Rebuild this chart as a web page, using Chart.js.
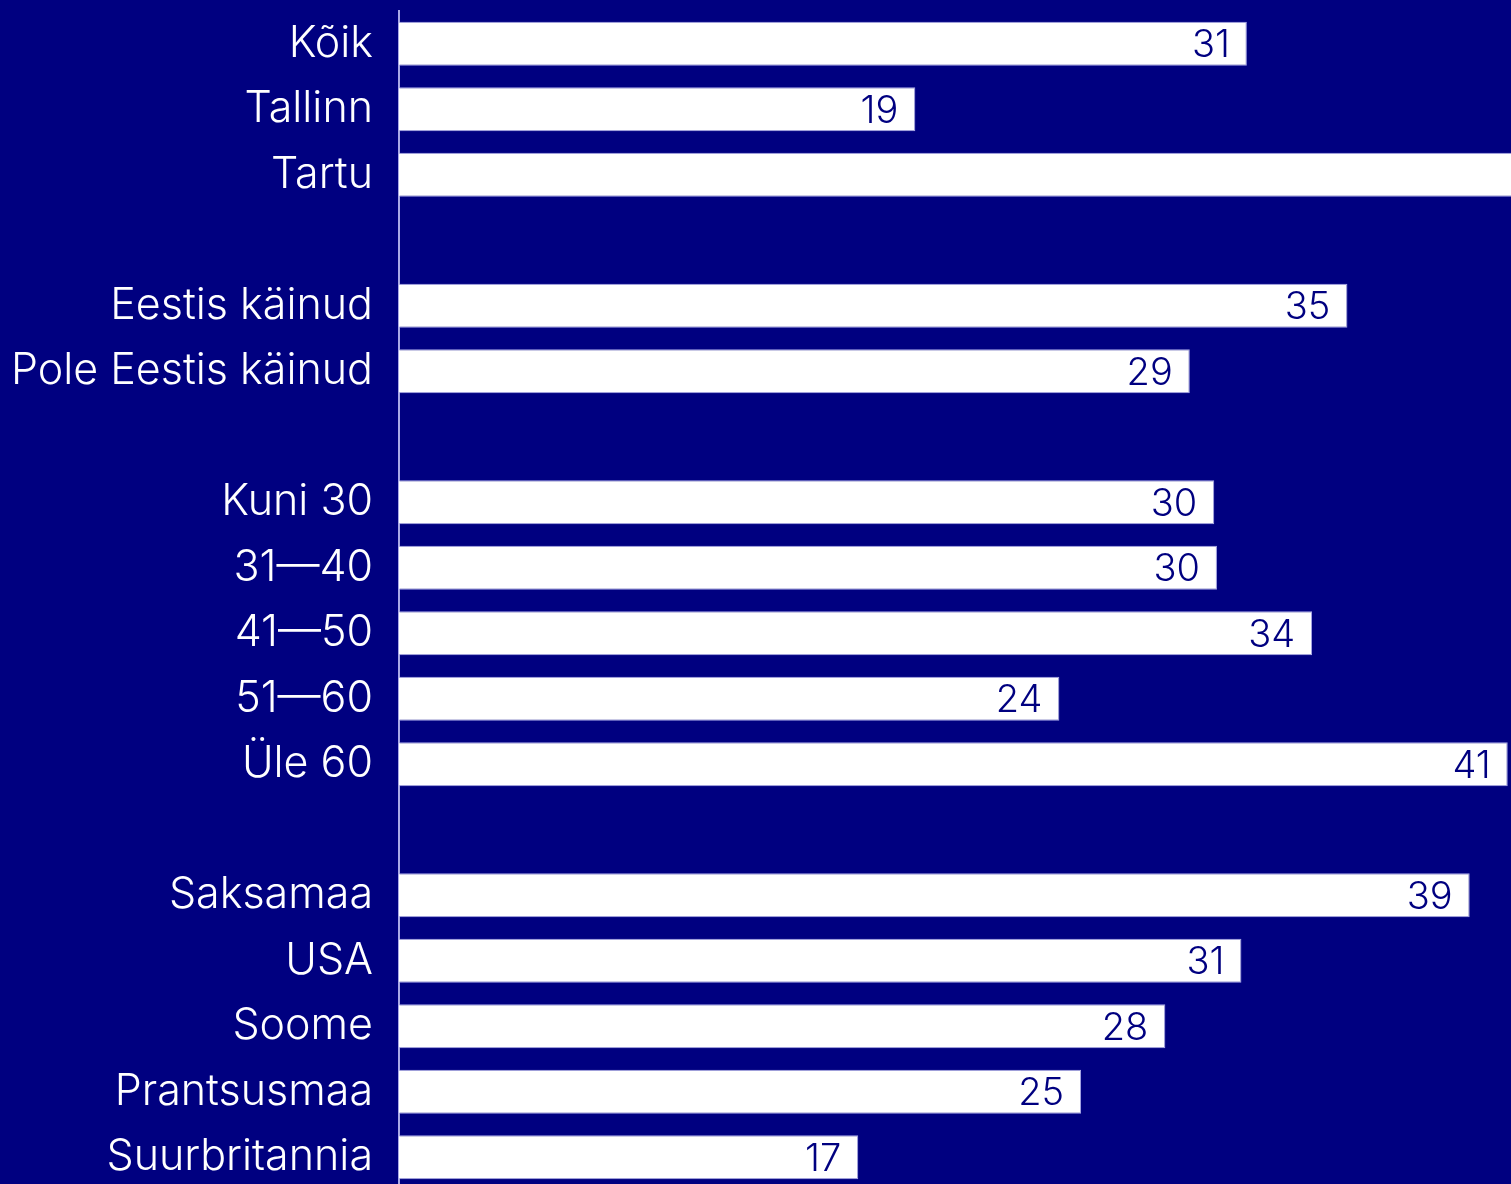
<!DOCTYPE html>
<html>
<head>
<meta charset="utf-8">
<script src="https://cdn.jsdelivr.net/npm/chart.js@4/dist/chart.umd.min.js"></script>
<style>
  html, body { margin: 0; padding: 0; background: #000080; overflow: hidden; }
  #wrap { width: 1511px; height: 1190px; }
</style>
</head>
<body>
<div id="wrap"><canvas id="barChart"></canvas></div>
<script>
// empty labels are the gaps between groups
var categories = [
  'Kõik', 'Tallinn', 'Tartu', '',
  'Eestis käinud', 'Pole Eestis käinud', '',
  'Kuni 30', '31—40', '41—50', '51—60', 'Üle 60', '',
  'Saksamaa', 'USA', 'Soome', 'Prantsusmaa', 'Suurbritannia',
];
var values = [
  31.2, 19.0, 47, null,
  34.9, 29.1, null,
  30.0, 30.1, 33.6, 24.3, 40.8, null,
  39.4, 31.0, 28.2, 25.1, 16.9,
];
var axisMax = 40.92;

var NAVY = '#000080';
var LINE = '#a9a9e6';

var valueLabels = {
  id: 'valueLabels',
  afterDatasetsDraw: function (chart) {
    var ctx = chart.ctx;
    var meta = chart.getDatasetMeta(0);
    ctx.save();
    ctx.fillStyle = NAVY;
    ctx.font = '300 38px Inter';
    ctx.textAlign = 'right';
    ctx.textBaseline = 'middle';
    meta.data.forEach(function (bar, i) {
      var v = values[i];
      if (v == null) return;
      ctx.fillText(Math.round(v), bar.x - 17, bar.y + 2);
    });
    ctx.restore();
  },
};

var ctx = document.getElementById('barChart').getContext('2d');
var chart = new Chart(ctx, {
  type: 'bar',
  data: {
    labels: categories,
    datasets: [
      {
        data: values,
        backgroundColor: '#ffffff',
        borderColor: LINE,
        borderWidth: 1,
        categoryPercentage: 1,
        barPercentage: 0.672,
      },
    ],
  },
  options: {
    indexAxis: 'y',
    responsive: true,
    maintainAspectRatio: false,
    animation: false,
    layout: { padding: { top: 11, right: 0, bottom: 0, left: 0 } },
    plugins: {
      legend: { display: false },
      tooltip: { enabled: false },
    },
    scales: {
      x: {
        min: 0,
        max: axisMax,
        display: false,
      },
      y: {
        grid: { display: false },
        border: { display: true, color: LINE, width: 2 },
        ticks: {
          color: '#ffffff',
          font: { family: 'Inter', size: 43, weight: '300' },
          padding: 18,
          autoSkip: false,
        },
        afterFit: function (scale) {
          scale.width = 399;
          scale.paddingTop = 0;
          scale.paddingBottom = 0;
        },
      },
    },
  },
  plugins: [valueLabels],
});
</script>
</body>
</html>
